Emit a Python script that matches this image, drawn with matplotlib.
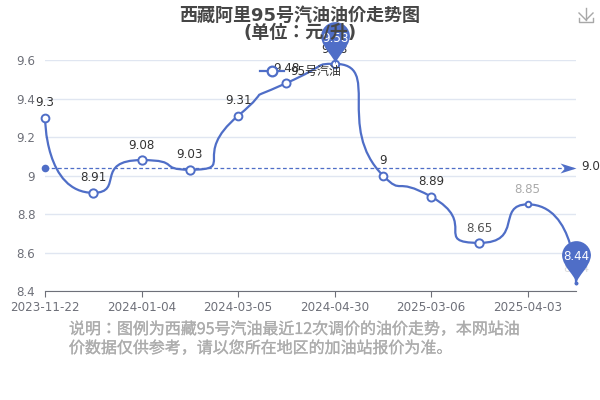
import matplotlib
matplotlib.use('Agg')
import matplotlib.pyplot as plt
import matplotlib.patheffects as pe
import numpy as np
from matplotlib.lines import Line2D
from matplotlib.patches import PathPatch
from matplotlib.path import Path

plt.rcParams['font.family'] = ['DejaVu Sans', 'Noto Sans CJK SC']

# 数据
values = [9.3, 8.91, 9.08, 9.03, 9.31, 9.48, 9.58, 9, 8.89, 8.65, 8.85, 8.44]
value_labels = ['9.3', '8.91', '9.08', '9.03', '9.31', '9.48', '9.58', '9', '8.89', '8.65', '8.85', '8.44']
date_labels = ['2023-11-22', '2024-01-04', '2024-03-05', '2024-04-30', '2025-03-06', '2025-04-03']
y_ticks = [8.4, 8.6, 8.8, 9, 9.2, 9.4, 9.6]
y_tick_labels = ['8.4', '8.6', '8.8', '9', '9.2', '9.4', '9.6']
mean_value = 9.04
mean_label = '9.0'
series_name = '95号汽油'

BLUE = '#4F6EC7'
CJK = ['DejaVu Sans', 'Noto Sans CJK KR']
NOTE_FONT = ['Noto Sans CJK KR', 'DejaVu Sans']
W, H = 600, 400
xs = np.arange(len(values))


def px(x, y):
    # 像素坐标转图形坐标（左上角为原点）
    return x / W, 1 - y / H


def smooth_path(ax, x, y, smooth=1.0):
    # 仿 echarts 的平滑折线，在屏幕坐标里算控制点
    p = ax.transData.transform(np.column_stack([x, y]))
    n = len(p)
    verts = [p[0]]
    cp0 = p[0].copy()
    for i in range(1, n):
        cur = p[i]
        if i < n - 1:
            prev, nxt = p[i - 1], p[i + 1]
            v = nxt - prev
            len0 = np.hypot(*(cur - prev))
            len1 = np.hypot(*(nxt - cur))
            ratio = len1 / (len0 + len1)
            next0 = cur + v * smooth * ratio
            next0 = np.clip(next0, np.minimum(cur, nxt), np.maximum(cur, nxt))
            cp1 = cur - (next0 - cur) * len0 / len1
            cp1 = np.clip(cp1, np.minimum(cur, prev), np.maximum(cur, prev))
            next0 = cur - (cp1 - cur) * len1 / len0
        else:
            cp1 = cur
            next0 = cur
        verts += [cp0, cp1, cur]
        cp0 = next0
    verts = ax.transData.inverted().transform(np.array(verts))
    codes = [Path.MOVETO] + [Path.CURVE4] * (len(verts) - 1)
    return Path(verts, codes)


def pin_path():
    # 气泡标记，尖端在原点
    r, cy = 14.5, 28.0
    k = 0.5523 * r
    verts = [
        (0, 0),
        (1, 8), (r - 1, 16), (r, cy),
        (r, cy + k), (k, cy + r), (0, cy + r),
        (-k, cy + r), (-r, cy + k), (-r, cy),
        (-r + 1, 16), (-1, 8), (0, 0),
    ]
    codes = [Path.MOVETO] + [Path.CURVE4] * 12
    return Path(verts, codes)


def arrow_path():
    # 平均线末端箭头，尖端在原点
    verts = [(0, 0), (-16, 5), (-11.5, 0), (-16, -5), (0, 0)]
    codes = [Path.MOVETO] + [Path.LINETO] * 3 + [Path.CLOSEPOLY]
    return Path(verts, codes)


fig = plt.figure(figsize=(6, 4), dpi=100)
ax = fig.add_axes([45 / W, 1 - 291 / H, (576 - 45) / W, (291 - 60) / H])
ax.set_xlim(0, len(values) - 1)
ax.set_ylim(8.4, 9.6)

for s in ['top', 'right', 'left']:
    ax.spines[s].set_visible(False)
ax.spines['bottom'].set_color('#6E7079')
ax.set_axisbelow(True)
ax.grid(axis='y', color='#E0E6F1', linewidth=1)
ax.set_yticks(y_ticks, y_tick_labels)
ax.set_xticks(xs[::2], date_labels)
ax.tick_params(axis='y', length=0, pad=7, labelsize=8.6, labelcolor='#6E7079')
ax.tick_params(axis='x', length=4, color='#6E7079', pad=3, labelsize=8.6, labelcolor='#6E7079')

# 平均线
ax.plot([0, len(values) - 1], [mean_value, mean_value], color=BLUE, lw=0.9, ls=(0, (3, 2)), zorder=2)
ax.plot([0], [mean_value], 'o', color=BLUE, ms=5.5, mew=0, clip_on=False, zorder=3)
ax.plot([len(values) - 1], [mean_value], marker=arrow_path(), color=BLUE, ms=23, mew=0, clip_on=False, zorder=3)
fig.text(*px(581, 167), mean_label, fontsize=8.6, color='#333333', va='center', ha='left')

# 折线
ax.add_patch(PathPatch(smooth_path(ax, xs, values), fc='none', ec=BLUE, lw=1.6, clip_on=False, zorder=4))

# 数据点
marker_sizes = [5.6, 6, 6, 6, 5.6, 5.8, 5.4, 5.6, 5.8, 6, 4, 1]
for x, y, ms in zip(xs, values, marker_sizes):
    ax.plot([x], [y], 'o', mfc='white', mec=BLUE, mew=1.4, ms=ms, clip_on=False, zorder=5)

# 数据标签，压在气泡下面
label_colors = ['#333333'] * 9 + ['#555555', '#AAAAAA', '#DDDDDD']
for x, y, t, c in zip(xs, values, value_labels, label_colors):
    ax.annotate(t, (x, y), xytext=(0, 6), textcoords='offset points', ha='center', va='bottom',
                fontsize=8.6, color=c, annotation_clip=False, zorder=6)

# 最大最小气泡
imax, imin = int(np.argmax(values)), int(np.argmin(values))
for i in [imax, imin]:
    ax.plot([xs[i]], [values[i]], marker=pin_path(), color=BLUE, ms=61, mew=0, clip_on=False, zorder=7)
ax.plot([xs[imin]], [values[imin]], 'o', color=BLUE, ms=2.8, mew=0, clip_on=False, zorder=7)

fig.text(*px(335, 38), value_labels[imax], color='white', fontsize=8.6, ha='center', va='center', zorder=9)
fig.text(*px(576, 256), value_labels[imin], color='white', fontsize=8.6, ha='center', va='center', zorder=9)

# 图例
fig.add_artist(Line2D([260 / W, 284 / W], [1 - 71 / H] * 2, color=BLUE, lw=1.6))
fig.add_artist(Line2D([272 / W], [1 - 71 / H], marker='o', mfc='white', mec=BLUE, mew=1.6, ms=7))
fig.text(*px(290, 71), series_name, family=CJK, fontsize=8.6, color='#333333', va='center', ha='left', zorder=9)

# 标题与说明
fig.text(*px(300, 15.5), '西藏阿里95号汽油油价走势图', family=CJK, fontsize=13, fontweight='bold',
         color='#464646', ha='center', va='center', zorder=10)
fig.text(*px(300, 32.5), '(单位：元/升)', family=CJK, fontsize=13, fontweight='bold',
         color='#464646', ha='center', va='center', zorder=10)
note_stroke = [pe.withStroke(linewidth=0.2, foreground='#B4B4B4')]
fig.text(*px(69, 329.5), '说明：图例为西藏95号汽油最近12次调价的油价走势，本网站油', family=NOTE_FONT, fontsize=11.5,
         color='#ACACAC', ha='left', va='center', path_effects=note_stroke)
fig.text(*px(69, 348.5), '价数据仅供参考，请以您所在地区的加油站报价为准。', family=NOTE_FONT, fontsize=11.5,
         color='#ACACAC', ha='left', va='center', path_effects=note_stroke)

# 下载图标
icon_x = [[586, 586], [579, 586, 593], [579, 579, 593, 593]]
icon_y = [[8, 20], [13, 20, 13], [18, 22, 22, 18]]
for ix, iy in zip(icon_x, icon_y):
    fig.add_artist(Line2D(np.array(ix) / W, 1 - np.array(iy) / H, color='#A8A8A8', lw=1))

fig.savefig('out.png', dpi=100)
